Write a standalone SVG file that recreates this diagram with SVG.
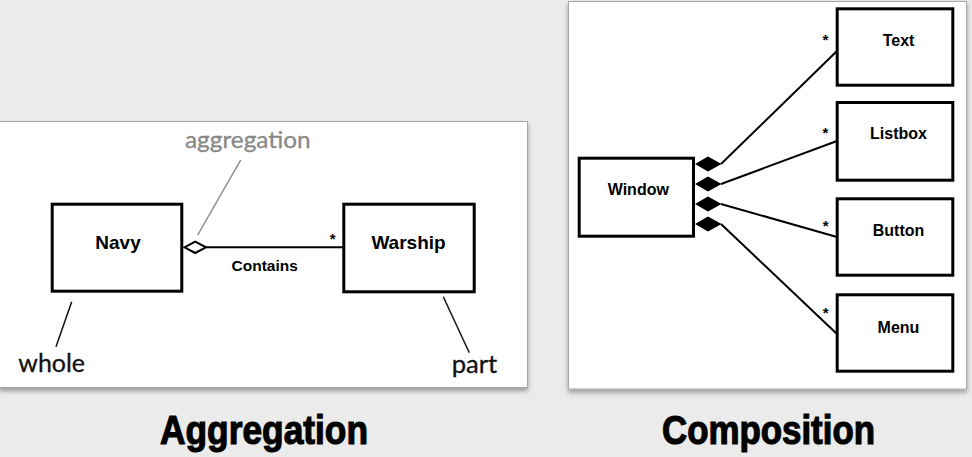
<svg xmlns="http://www.w3.org/2000/svg" width="972" height="457" viewBox="0 0 972 457">
  <defs>
    <filter id="shadow" x="-5%" y="-5%" width="110%" height="115%">
      <feDropShadow dx="0" dy="3" stdDeviation="2.5" flood-color="#000" flood-opacity="0.35"/>
    </filter>
  </defs>
  <style>
    .panel { fill: #ffffff; stroke: #a8a8a8; stroke-width: 1; }
    .box { fill: #ffffff; stroke: #000000; stroke-width: 3; }
    .lbl { font-family: "Liberation Sans", Arial, sans-serif; font-weight: bold; font-size: 16px; fill: #000; text-anchor: middle; }
    .big { font-size: 19px; }
    .mid { font-size: 15.5px; }
    .star { font-family: "Liberation Sans", Arial, sans-serif; font-weight: bold; font-size: 15px; fill: #000; text-anchor: middle; }
    .note { font-family: Lato, "Open Sans", sans-serif; font-size: 25px; fill: #111; stroke: #111; stroke-width: 0.3; }
    .gray { fill: #888888; stroke: #888888; font-size: 24px; }
    .title { font-family: "Liberation Sans", Arial, sans-serif; font-weight: bold; font-size: 41px; fill: #000; stroke: #000; stroke-width: 1.2; }
    .conn { stroke: #000; stroke-width: 2; fill: none; }
    .lead { stroke: #111; stroke-width: 1.5; fill: none; }
  </style>
  <rect x="0" y="0" width="972" height="457" fill="#ebebeb"/>

  <g id="aggregation-panel">
    <rect class="panel" x="-1" y="121.5" width="528.5" height="266" filter="url(#shadow)"/>
  </g>
  <g id="composition-panel">
    <rect class="panel" x="568.5" y="1.5" width="398" height="387.5" filter="url(#shadow)"/>
  </g>

  <g id="connectors">
    <line class="conn" x1="206" y1="247.3" x2="344" y2="247.3"/>
    <polygon points="184.5,247.3 195.2,241.6 206,247.3 195.2,253" fill="#fff" stroke="#000" stroke-width="2"/>
    <line class="conn" x1="721" y1="164" x2="837" y2="51"/>
    <line class="conn" x1="721" y1="184" x2="837" y2="141"/>
    <line class="conn" x1="721" y1="204" x2="837" y2="237"/>
    <line class="conn" x1="721" y1="224" x2="837" y2="334"/>
    <polygon points="695,164 708,156.5 721.5,164 708,171.5" fill="#000"/>
    <polygon points="695,184 708,176.5 721.5,184 708,191.5" fill="#000"/>
    <polygon points="695,204 708,196.5 721.5,204 708,211.5" fill="#000"/>
    <polygon points="695,224 708,216.5 721.5,224 708,231.5" fill="#000"/>
  </g>

  <g id="navy">
    <rect class="box" x="52.2" y="204.2" width="129.6" height="87"/>
    <text class="lbl big" x="118" y="249.3">Navy</text>
  </g>
  <g id="warship">
    <rect class="box" x="343.8" y="204.2" width="130.4" height="87.6"/>
    <text class="lbl big" x="408.5" y="249.3">Warship</text>
  </g>

  <g id="labels-aggregation">
    <text class="star" x="332.7" y="244">*</text>
    <text class="lbl mid" x="264.7" y="271">Contains</text>
    <text class="note gray" x="185" y="148.3" textLength="125.7" lengthAdjust="spacingAndGlyphs">aggregation</text>
    <line x1="240.7" y1="160" x2="197.7" y2="235" stroke="#888888" stroke-width="1.5"/>
    <line class="lead" x1="71.7" y1="301.7" x2="56" y2="346.7"/>
    <text class="note" x="18.3" y="371.7" textLength="66.7" lengthAdjust="spacingAndGlyphs">whole</text>
    <line class="lead" x1="443.3" y1="296.7" x2="469.3" y2="352.7"/>
    <text class="note" x="451.7" y="372.7" textLength="45.6" lengthAdjust="spacingAndGlyphs">part</text>
  </g>

  <g id="window">
    <rect class="box" x="579.2" y="158.2" width="114.3" height="78"/>
    <text class="lbl" x="638.3" y="195">Window</text>
  </g>
  <g id="text-node">
    <rect class="box" x="837.2" y="8.8" width="115.6" height="76.4"/>
    <text class="lbl" x="898.5" y="45.7">Text</text>
  </g>
  <g id="listbox">
    <rect class="box" x="837.2" y="102.5" width="115.6" height="77.7"/>
    <text class="lbl" x="898.5" y="139.3">Listbox</text>
  </g>
  <g id="button">
    <rect class="box" x="837.2" y="198.8" width="115.6" height="76.4"/>
    <text class="lbl" x="898.5" y="235.7">Button</text>
  </g>
  <g id="menu">
    <rect class="box" x="837.2" y="294.8" width="115.6" height="76.4"/>
    <text class="lbl" x="898.5" y="332.7">Menu</text>
  </g>

  <g id="labels-composition">
    <text class="star" x="825.5" y="45">*</text>
    <text class="star" x="825.5" y="138">*</text>
    <text class="star" x="825.7" y="230.5">*</text>
    <text class="star" x="825.7" y="318">*</text>
  </g>

  <g id="titles">
    <text class="title" x="160" y="444" textLength="208" lengthAdjust="spacingAndGlyphs">Aggregation</text>
    <text class="title" x="662" y="444" textLength="213" lengthAdjust="spacingAndGlyphs">Composition</text>
  </g>
</svg>
